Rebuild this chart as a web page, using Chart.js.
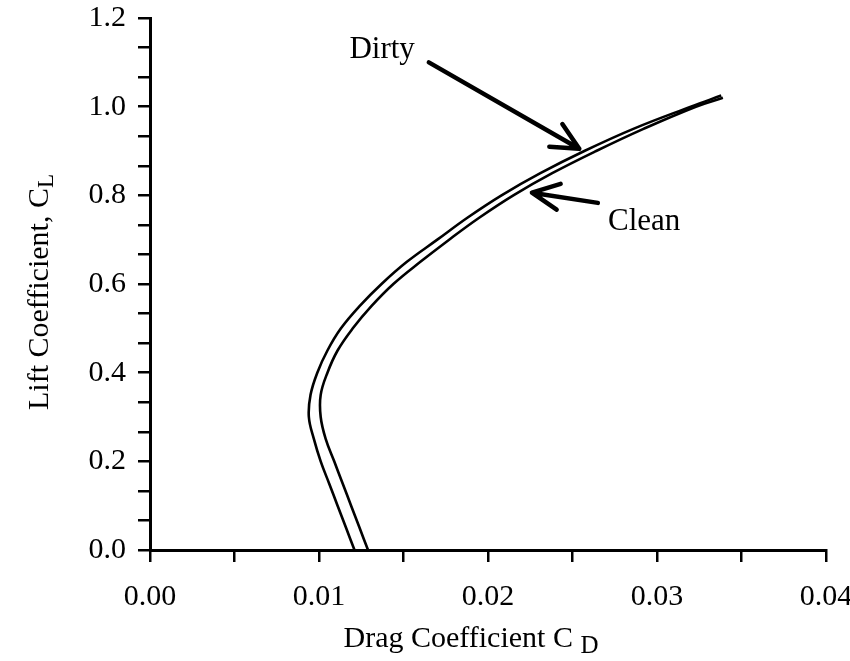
<!DOCTYPE html>
<html>
<head>
<meta charset="utf-8">
<script src="https://cdn.jsdelivr.net/npm/chart.js@4"></script>
<style>
  html, body { margin: 0; padding: 0; background: #fff; }
  #wrap { width: 850px; height: 661px; }
</style>
</head>
<body>
<div id="wrap"><canvas id="chart"></canvas></div>
<script>
// drag polar (CL, CD)
const dirtyCL = [0.00, 0.05, 0.10, 0.15, 0.20, 0.25, 0.30, 0.35, 0.40, 0.45, 0.50, 0.55, 0.60, 0.65, 0.70, 0.75, 0.80, 0.85, 0.90, 0.95, 1.00, 1.025];
const dirtyCD = [0.0121, 0.0116, 0.0111, 0.0106, 0.0101, 0.0097, 0.0094, 0.0095, 0.0099, 0.0105, 0.0113, 0.0124, 0.0137, 0.0152, 0.0170, 0.0188, 0.0208, 0.0231, 0.0257, 0.0286, 0.0320, 0.0338];
const cleanCL = [0.00, 0.05, 0.10, 0.15, 0.20, 0.25, 0.30, 0.35, 0.40, 0.45, 0.50, 0.55, 0.60, 0.65, 0.70, 0.75, 0.80, 0.85, 0.90, 0.95, 1.00, 1.02];
const cleanCD = [0.0129, 0.0124, 0.0119, 0.0114, 0.0109, 0.0104, 0.0101, 0.0101, 0.0105, 0.0111, 0.0120, 0.0131, 0.0144, 0.0160, 0.0177, 0.0195, 0.0215, 0.0238, 0.0264, 0.0292, 0.0323, 0.0339];

const xTitle = ['Drag Coefficient C', 'D'];
const yTitle = ['Lift Coefficient, C', 'L'];

// labels with arrows, in data units
const notes = [
  { text: 'Dirty', at: [0.0118, 1.110], from: [0.0165, 1.100], to: [0.0254, 0.905] },
  { text: 'Clean', at: [0.0271, 0.722], from: [0.0265, 0.783], to: [0.0226, 0.806] }
];

const serif = '"Liberation Serif", "Times New Roman", serif';

const toPoints = (xs, ys) => xs.map((x, i) => ({ x: x, y: ys[i] }));
const near = (v, step) => Math.abs(v / step - Math.round(v / step)) < 1e-6;

const drawArrow = (ctx, x1, y1, x2, y2) => {
  const ang = Math.atan2(y2 - y1, x2 - x1);
  const len = 30, spread = 0.45;
  ctx.beginPath();
  ctx.moveTo(x1, y1);
  ctx.lineTo(x2, y2);
  ctx.moveTo(x2 - len * Math.cos(ang - spread), y2 - len * Math.sin(ang - spread));
  ctx.lineTo(x2, y2);
  ctx.lineTo(x2 - len * Math.cos(ang + spread), y2 - len * Math.sin(ang + spread));
  ctx.stroke();
};

const extras = {
  id: 'extras',
  afterDraw(chart) {
    const { ctx, chartArea, scales } = chart;
    const xs = scales.x, ys = scales.y;
    ctx.save();
    ctx.fillStyle = '#000';
    ctx.strokeStyle = '#000';
    ctx.lineCap = 'round';
    ctx.lineJoin = 'round';

    // arrows and their labels
    ctx.font = '31px ' + serif;
    ctx.textAlign = 'left';
    ctx.textBaseline = 'alphabetic';
    ctx.lineWidth = 4.5;
    notes.forEach(n => {
      ctx.fillText(n.text, xs.getPixelForValue(n.at[0]), ys.getPixelForValue(n.at[1]));
      drawArrow(ctx,
        xs.getPixelForValue(n.from[0]), ys.getPixelForValue(n.from[1]),
        xs.getPixelForValue(n.to[0]), ys.getPixelForValue(n.to[1]));
    });

    // x axis title with subscript
    ctx.font = '30px ' + serif;
    const wx = ctx.measureText(xTitle[0] + ' ').width;
    ctx.font = '25px ' + serif;
    const wxs = ctx.measureText(xTitle[1]).width;
    const x0 = (chartArea.left + chartArea.right) / 2 - 17 - (wx + wxs) / 2;
    const by = chart.height - 14;
    ctx.font = '30px ' + serif;
    ctx.fillText(xTitle[0], x0, by);
    ctx.font = '25px ' + serif;
    ctx.fillText(xTitle[1], x0 + wx, by + 6);

    // y axis title with subscript, rotated
    ctx.font = '30px ' + serif;
    const wy = ctx.measureText(yTitle[0]).width;
    ctx.font = '23px ' + serif;
    const wys = ctx.measureText(yTitle[1]).width;
    ctx.translate(48, (chartArea.top + chartArea.bottom) / 2 + 8);
    ctx.rotate(-Math.PI / 2);
    const y0 = -(wy + wys) / 2;
    ctx.font = '30px ' + serif;
    ctx.fillText(yTitle[0], y0, 0);
    ctx.font = '23px ' + serif;
    ctx.fillText(yTitle[1], y0 + wy, 5);
    ctx.restore();
  }
};

const lineStyle = {
  showLine: true,
  borderColor: '#000',
  backgroundColor: '#000',
  borderWidth: 2.6,
  pointRadius: 0,
  tension: 0.4,
  fill: false
};

new Chart(document.getElementById('chart'), {
  type: 'scatter',
  data: {
    datasets: [
      { label: 'Dirty', data: toPoints(dirtyCD, dirtyCL), ...lineStyle },
      { label: 'Clean', data: toPoints(cleanCD, cleanCL), ...lineStyle }
    ]
  },
  options: {
    responsive: true,
    maintainAspectRatio: false,
    animation: false,
    layout: { padding: { top: 18, right: 24, left: 0, bottom: 0 } },
    plugins: {
      legend: { display: false },
      tooltip: { enabled: false }
    },
    scales: {
      x: {
        type: 'linear',
        min: 0,
        max: 0.04,
        afterFit: s => { s.height = 111; s.paddingLeft = 0; s.paddingRight = 0; },
        border: { display: true, color: '#000', width: 3 },
        grid: { drawOnChartArea: false, drawTicks: true, tickLength: 12, color: '#000', lineWidth: 2.5 },
        ticks: {
          stepSize: 0.005,
          autoSkip: false,
          maxRotation: 0,
          padding: 17,
          color: '#000',
          font: { family: serif, size: 30 },
          callback: v => near(v, 0.01) ? v.toFixed(2) : ''
        }
      },
      y: {
        type: 'linear',
        min: 0,
        max: 1.2,
        afterFit: s => { s.width = 150; s.paddingTop = 0; s.paddingBottom = 0; },
        border: { display: true, color: '#000', width: 3 },
        grid: { drawOnChartArea: false, drawTicks: true, tickLength: 12, color: '#000', lineWidth: 2.5 },
        ticks: {
          stepSize: 1 / 15,
          autoSkip: false,
          padding: 12,
          color: '#000',
          font: { family: serif, size: 30 },
          callback: v => near(v, 0.2) ? v.toFixed(1) : ''
        }
      }
    }
  },
  plugins: [extras]
});
</script>
</body>
</html>
